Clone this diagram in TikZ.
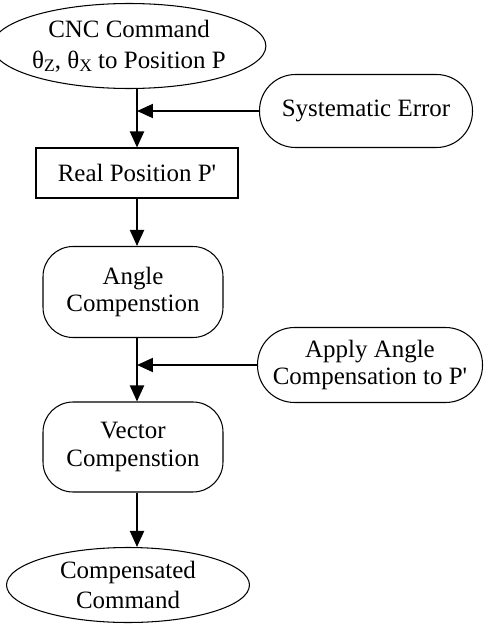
\documentclass[tikz,border=0pt]{standalone}
\usepackage{fontspec}
\setmainfont{Liberation Serif}
\usetikzlibrary{shapes.geometric,arrows.meta}
\newcommand\thsub[1]{θ\raisebox{-0.3ex}{\fontsize{10}{11}\selectfont #1}}
\begin{document}
\begin{tikzpicture}[x=0.02cm, y=-0.02cm,
    every node/.style={font=\fontsize{14.2}{15.6}\selectfont, align=center, inner sep=0pt},
    oval/.style={draw, ellipse, line width=0.6pt},
    pill/.style={draw, rectangle, rounded corners=0.6cm, line width=0.6pt},
    plainbox/.style={draw, rectangle, line width=0.6pt},
    flow/.style={line width=1.1pt, -{Triangle[length=0.32cm, width=0.28cm]}}]
  \useasboundingbox (0,0) rectangle (485,625);
  \node[oval, minimum width=4.98cm, minimum height=1.7cm] (cnc) at (129,46) {CNC Command\\[0.07cm] \thsub{Z}, \thsub{X} to Position P};
  \node[pill, minimum width=4.26cm, minimum height=1.46cm, rounded corners=0.72cm] (syserr) at (366,111) {Systematic Error};
  \node[plainbox, minimum width=4.04cm, minimum height=1cm] (realpos) at (137,173) {Real Position P\textquotesingle};
  \node[pill, minimum width=3.6cm, minimum height=1.82cm] (anglecomp) at (133,292) {Angle\\ Compenstion};
  \node[pill, minimum width=4.5cm, minimum height=1.5cm, rounded corners=0.74cm] (apply) at (370,365) {Apply Angle\\ Compensation to P\textquotesingle};
  \node[pill, minimum width=3.6cm, minimum height=1.8cm] (vector) at (133,447) {Vector\\ Compenstion};
  \node[oval, minimum width=4.86cm, minimum height=1.5cm] (compcmd) at (128,585) {Compensated\\[0.06cm] Command};
  % main column
  \draw[flow] (cnc.south -| realpos.north) -- (realpos.north);
  \draw[flow] (realpos.south) -- (realpos.south |- anglecomp.north);
  \draw[flow] (anglecomp.south -| realpos.south) -- (vector.north -| realpos.south);
  \draw[flow] (vector.south -| realpos.south) -- (compcmd.north -| realpos.south);
  % side inputs
  \draw[flow] (syserr.west) -- (syserr.west -| realpos.north);
  \draw[flow] (apply.west) -- (apply.west -| realpos.south);
\end{tikzpicture}
\end{document}
